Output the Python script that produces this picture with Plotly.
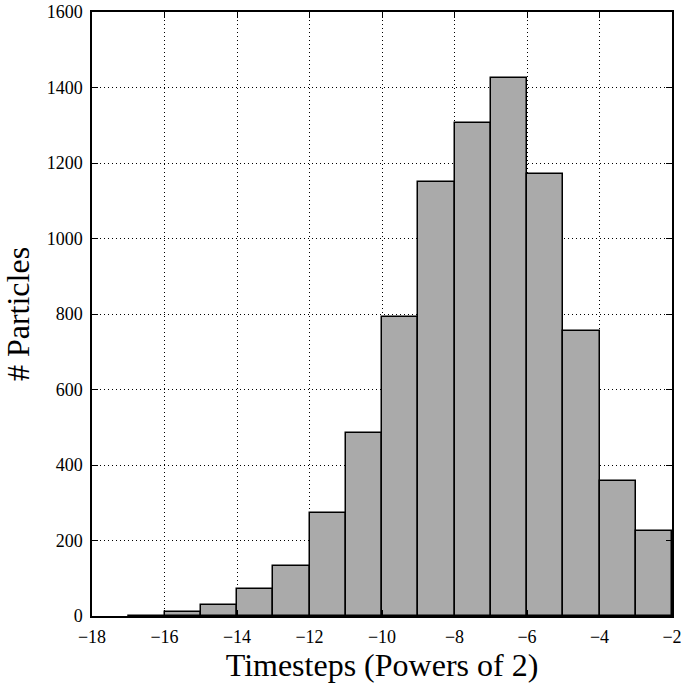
import plotly.graph_objects as go

bin_left = [-17, -16, -15, -14, -13, -12, -11, -10, -9, -8, -7, -6, -5, -4, -3]
counts = [1, 11, 30, 72, 132, 274, 485, 792, 1149, 1305, 1426, 1171, 754, 358, 226]
x_ticks = [-18, -16, -14, -12, -10, -8, -6, -4, -2]
y_ticks = [0, 200, 400, 600, 800, 1000, 1200, 1400, 1600]

centers = [b + 0.5 for b in bin_left]
FONT = "Liberation Serif"

fig = go.Figure()
fig.add_trace(go.Bar(
    x=centers, y=counts, width=[1] * len(counts),
    marker=dict(color="#aaaaaa", line=dict(color="black", width=1.5)),
))

axis_common = dict(
    showline=True, linecolor="black", linewidth=1.5, mirror="ticks",
    ticks="inside", ticklen=6, tickwidth=1, tickcolor="black",
    showgrid=True, gridcolor="black", gridwidth=1, griddash="1px,3px",
    zeroline=False, automargin=False,
    tickfont=dict(family=FONT, size=18, color="black"),
)

fig.update_xaxes(
    range=[-18, -2], tickvals=x_ticks,
    ticktext=[("\u2212" + str(-v)) if v < 0 else str(v) for v in x_ticks],
    ticklabelstandoff=4,
    title=dict(text="Timesteps (Powers of 2)", font=dict(family=FONT, size=32, color="black"), standoff=4),
    **axis_common,
)
fig.update_yaxes(
    range=[0, 1600], tickvals=y_ticks, ticktext=[str(v) for v in y_ticks],
    ticklabelstandoff=4,
    title=dict(text="# Particles", font=dict(family=FONT, size=32, color="black"), standoff=8),
    **axis_common,
)

fig.update_layout(
    width=686, height=687,
    margin=dict(l=92, r=14, t=12, b=71),
    plot_bgcolor="white", paper_bgcolor="white",
    showlegend=False, bargap=0,
)

fig.write_html("out.html")
